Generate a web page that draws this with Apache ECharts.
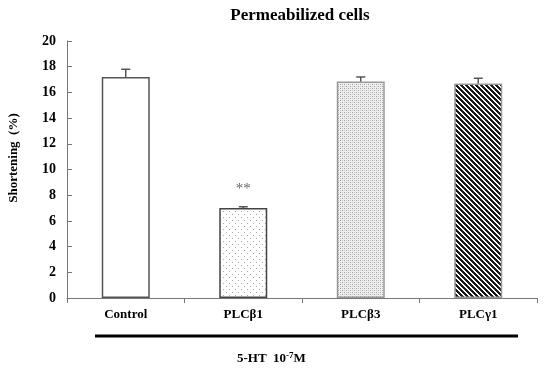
<!DOCTYPE html>
<html><head><meta charset="utf-8">
<script src="https://cdn.jsdelivr.net/npm/echarts@6/dist/echarts.min.js"></script>
<style>html,body{margin:0;padding:0;background:#fff}#c{width:550px;height:374px}</style>
</head><body><div id="c"></div>
<script>
const categories = ['Control', 'PLCβ1', 'PLCβ3', 'PLCγ1'];
const values = [17.2, 7.0, 16.85, 16.7];
const errors = [0.6, 0.1, 0.35, 0.4];
const yTicks = [0, 2, 4, 6, 8, 10, 12, 14, 16, 18, 20];
const marks = ['', '**', '', ''];

function pattern(kind) {
  const c = document.createElement('canvas');
  const ctx = c.getContext('2d');
  if (kind === 'sparse') {
    c.width = 6; c.height = 6;
    ctx.fillStyle = '#fff'; ctx.fillRect(0, 0, 6, 6);
    ctx.fillStyle = '#a8a8a8';
    ctx.fillRect(1, 1, 1, 1); ctx.fillRect(4, 4, 1, 1);
  } else if (kind === 'dense') {
    c.width = 4; c.height = 4;
    ctx.fillStyle = '#eeeeee'; ctx.fillRect(0, 0, 4, 4);
    ctx.fillStyle = '#a0a0a0';
    ctx.fillRect(0, 0, 1, 1); ctx.fillRect(2, 2, 1, 1);
    ctx.fillStyle = '#c8c8c8';
    ctx.fillRect(2, 0, 1, 1); ctx.fillRect(0, 2, 1, 1);
  } else if (kind === 'stripe') {
    const n = 5;
    c.width = n; c.height = n;
    ctx.fillStyle = '#fff'; ctx.fillRect(0, 0, n, n);
    ctx.fillStyle = '#1a1a1a';
    for (let x = 0; x < n; x++) {
      ctx.fillRect(x, x, 1, 1);
      ctx.fillRect((x + 1) % n, x, 1, 1);
      ctx.fillRect((x + 2) % n, x, 1, 1);
    }
  }
  return c;
}

const fills = [
  '#ffffff',
  { image: pattern('sparse'), repeat: 'repeat' },
  { image: pattern('dense'), repeat: 'repeat' },
  { image: pattern('stripe'), repeat: 'repeat' }
];
const borders = ['#555', '#444', '#999', '#999'];

const chart = echarts.init(document.getElementById('c'));
const serif = '"Liberation Serif","Times New Roman",serif';
chart.setOption({
  animation: false,
  title: {
    text: 'Permeabilized cells', left: 295, top: 2, textAlign: 'center',
    textStyle: { fontFamily: serif, fontWeight: 'bold', fontSize: 17, color: '#000' }
  },
  grid: { left: 67, right: 13, top: 41, bottom: 76 },
  xAxis: {
    type: 'category', data: categories,
    axisLine: { lineStyle: { color: '#777', width: 1 } },
    axisTick: { show: true, length: 5, lineStyle: { color: '#777' } },
    axisLabel: { fontFamily: serif, fontWeight: 'bold', fontSize: 13, color: '#000', margin: 10 }
  },
  yAxis: {
    type: 'value', min: 0, max: 20, interval: 2,
    splitLine: { show: false },
    axisLine: { show: true, lineStyle: { color: '#777', width: 1 } },
    axisTick: { show: true, inside: true, length: 5, lineStyle: { color: '#777' } },
    axisLabel: {
      fontFamily: serif, fontWeight: 'bold', fontSize: 14, color: '#000', margin: 11,
      formatter: v => yTicks.includes(v) ? String(v) : ''
    }
  },
  series: [
    {
      type: 'bar', barWidth: 48,
      data: values.map((v, i) => ({
        value: v,
        itemStyle: { color: fills[i], borderColor: borders[i], borderWidth: 1.5 },
        label: {
          show: marks[i] !== '', formatter: () => marks[i], position: 'top', distance: 11,
          fontSize: 15, color: '#666', fontFamily: serif
        }
      }))
    },
    {
      type: 'custom',
      data: values.map((v, i) => [i, v, errors[i]]),
      renderItem: (params, api) => {
        const x = api.value(0), v = api.value(1), e = api.value(2);
        const base = api.coord([x, v]);
        const top = api.coord([x, v + e]);
        const cap = 4.5;
        return {
          type: 'group',
          children: [
            { type: 'line', shape: { x1: base[0], y1: base[1], x2: top[0], y2: top[1] }, style: { stroke: '#555', lineWidth: 1.5 } },
            { type: 'line', shape: { x1: top[0] - cap, y1: top[1], x2: top[0] + cap, y2: top[1] }, style: { stroke: '#555', lineWidth: 1.5 } }
          ]
        };
      },
      z: 3
    }
  ],
  graphic: [
    {
      type: 'text', x: 14, y: 158, rotation: Math.PI / 2,
      style: {
        text: 'Shortening  (%)', align: 'center', verticalAlign: 'middle',
        font: 'bold 13px ' + serif, fill: '#000'
      }
    },
    { type: 'line', shape: { x1: 95, y1: 336, x2: 518, y2: 336 }, style: { stroke: '#000', lineWidth: 3 } },
    {
      type: 'text', left: 237, top: 351,
      style: {
        text: '{a|5-HT  10}{s|-7}{a|M}',
        rich: {
          a: { fontFamily: serif, fontWeight: 'bold', fontSize: 13, fill: '#000' },
          s: { fontFamily: serif, fontWeight: 'bold', fontSize: 9, fill: '#000', verticalAlign: 'top', padding: [0, 0, 6, 0] }
        }
      }
    }
  ]
});
</script></body></html>
